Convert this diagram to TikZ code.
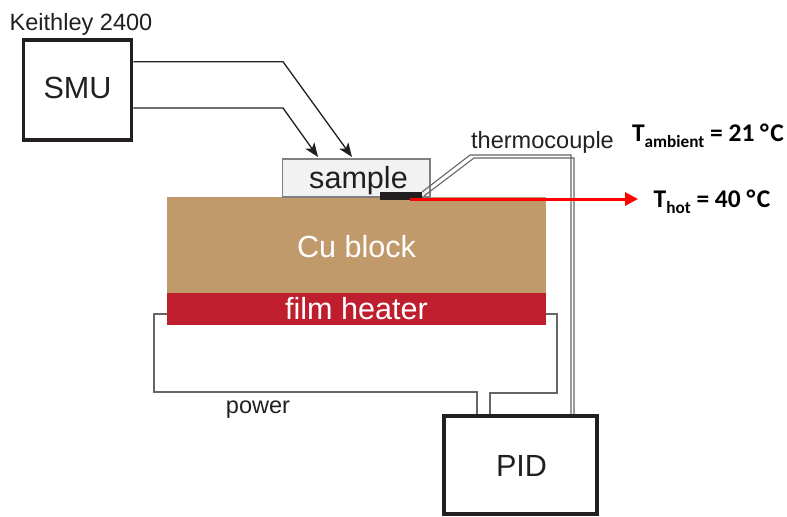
\documentclass[tikz,border=0pt]{standalone}
\usepackage{fontspec}
\setmainfont{Liberation Sans}
\newfontfamily\calibri{Carlito}
\usetikzlibrary{arrows.meta}
\definecolor{inkgray}{HTML}{231F20}
\definecolor{wiregray}{HTML}{666666}
\definecolor{copper}{HTML}{C19A6B}
\definecolor{heaterred}{HTML}{BE1E2D}
\newcommand{\lowtext}[1]{\raisebox{-.5ex}{\fontsize{9.8}{10}\selectfont #1}}
\tikzset{
  labeltext/.style={text=inkgray,font=\fontsize{13.4}{14}\selectfont,inner sep=0pt},
  bigtext/.style={text=inkgray,font=\fontsize{17.4}{18}\selectfont,inner sep=0pt},
  tempbold/.style={text=black,font=\calibri\bfseries\fontsize{14.5}{16}\selectfont,inner sep=0pt},
  instrument/.style={bigtext,draw=inkgray,fill=white,line width=.075cm},
  layerbox/.style={bigtext,minimum width=7.58cm,text=white},
  thinwire/.style={draw=wiregray,line width=.022cm},
  signalwire/.style={draw=inkgray,line width=.026cm,-{Stealth[length=.28cm,width=.22cm,inset=.07cm]}}
}
\begin{document}
\begin{tikzpicture}
\useasboundingbox (0,0) rectangle (15.74,10.32);

% blocks
\node[layerbox,fill=copper,minimum height=1.92cm] (cu) at (7.13,5.42) {};
\node[bigtext,text=white] (culabel) at (7.13,5.38) {Cu block};
\node[layerbox,fill=heaterred,minimum height=.64cm] (heater) at (7.13,4.14) {film heater};
\node[draw=gray,fill=black!5,line width=.03cm,minimum width=2.95cm,minimum height=.76cm] (sample) at (7.125,6.76) {};
\node[bigtext] (samplelabel) at (7.17,6.71) {sample};
\node[fill=inkgray,minimum width=.84cm,minimum height=.16cm,inner sep=0pt] (sensor) at (8.02,6.40) {};

% instruments
\node[instrument,minimum width=2.16cm,minimum height=2.0cm] (smu) at (1.55,8.52) {};
\node[bigtext] (smulabel) at (1.55,8.56) {SMU};
\node[instrument,minimum width=3.06cm,minimum height=1.96cm] (pid) at (10.41,1.02) {};
\node[bigtext] (pidlabel) at (10.43,1.00) {PID};

% labels
\node[labeltext] (keithley) at (1.62,9.83) {Keithley 2400};
\node[labeltext] (thermocouple) at (10.85,7.48) {thermocouple};
\node[labeltext] (power) at (5.16,2.12) {power};
\node[tempbold] (tambient) at (14.16,7.60) {T\lowtext{ambient} = 21 °\kern.06em C};
\node[tempbold] (thot) at (14.24,6.28) {T\lowtext{hot} = 40 °\kern.06em C};

% SMU to sample
\coordinate (bendA) at (5.66,9.086);
\coordinate (bendB) at (5.66,8.16);
\coordinate (sampleA) at (7.04,7.18);
\coordinate (sampleB) at (6.36,7.18);
\draw[signalwire] (smu.east |- bendA) -- (bendA) -- (sampleA);
\draw[signalwire] (smu.east |- bendB) -- (bendB) -- (sampleB);

% thermocouple
\coordinate (tcStartA) at (8.44,6.48);
\coordinate (tcStartB) at (8.48,6.40);
\coordinate (tcUpA) at (9.40,7.22);
\coordinate (tcUpB) at (9.48,7.16);
\coordinate (tcCornerA) at (11.42,7.22);
\coordinate (tcCornerB) at (11.48,7.16);
\draw[thinwire] (tcStartA) -- (tcUpA) -- (tcCornerA) -- (tcCornerA |- pid.north);
\draw[thinwire] (tcStartB) -- (tcUpB) -- (tcCornerB) -- (tcCornerB |- pid.north);

% power leads
\coordinate (leftTop) at (3.08,4.04);
\coordinate (leftLow) at (3.08,2.48);
\coordinate (leftPid) at (9.54,2.48);
\coordinate (rightTop) at (11.14,4.04);
\coordinate (rightLow) at (11.14,2.46);
\coordinate (rightPid) at (9.80,2.46);
\draw[thinwire] (heater.west |- leftTop) -- (leftTop) -- (leftLow) -- (leftPid) -- (leftPid |- pid.north);
\draw[thinwire] (heater.east |- rightTop) -- (rightTop) -- (rightLow) -- (rightPid) -- (rightPid |- pid.north);

% hot side reading
\coordinate (hotStart) at (8.2,6.34);
\coordinate (hotEnd) at (12.76,6.34);
\draw[red,line width=.06cm,-{Triangle[length=.26cm,width=.26cm]}] (hotStart) -- (hotEnd);

\end{tikzpicture}
\end{document}
